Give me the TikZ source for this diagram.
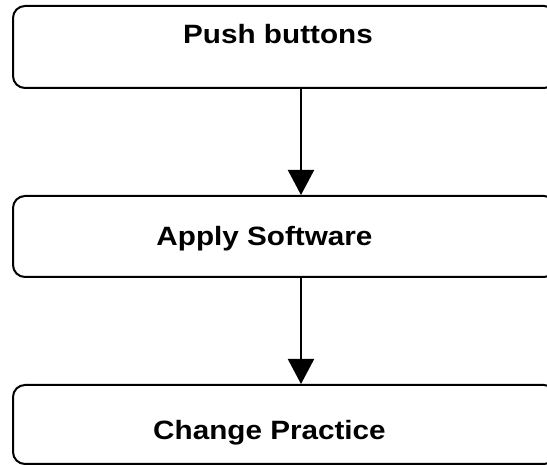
\documentclass[tikz,border=0pt]{standalone}
\usepackage{fontspec}
\setmainfont[FakeStretch=1.12]{Liberation Sans}
\usetikzlibrary{arrows.meta}
\begin{document}
\begin{tikzpicture}[x=1pt,y=-1pt,
  box/.style={draw=black,line width=2pt,rounded corners=12pt,rectangle,inner sep=0pt},
  lbl/.style={anchor=base,inner sep=0pt,font=\fontsize{26.5}{30}\selectfont\bfseries},
  arr/.style={line width=2pt,-{Triangle[width=26pt,length=25pt]}}]
\useasboundingbox (0,0) rectangle (547,465);
\begin{scope}
\clip (0,0) rectangle (547,465);
\node[box,minimum width=543pt,minimum height=82pt] (b1) at (284.5,47) {};
\node[box,minimum width=543pt,minimum height=81pt] (b2) at (284.5,236.5) {};
\node[box,minimum width=543pt,minimum height=79pt] (b3) at (284.5,424.5) {};
\end{scope}
\node[lbl] (t1) at (278,44) {Push buttons};
\node[lbl] (t2) at (264.5,245.5) {Apply Software};
\node[lbl] (t3) at (269.5,439) {Change Practice};
\coordinate (ax) at (301,0);
\draw[arr] (b1.south -| ax) -- (b2.north -| ax);
\draw[arr] (b2.south -| ax) -- (b3.north -| ax);
\end{tikzpicture}
\end{document}
